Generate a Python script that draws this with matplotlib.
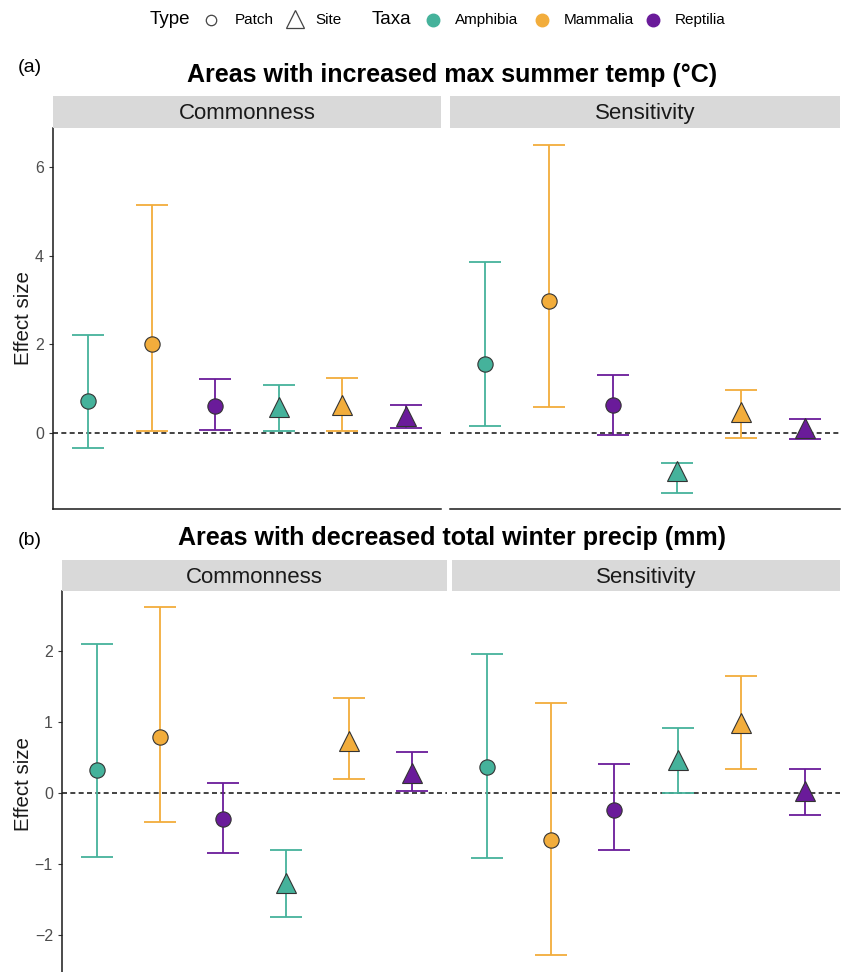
import matplotlib
matplotlib.use("Agg")
import matplotlib.pyplot as plt
from matplotlib.lines import Line2D

plt.rcParams["font.family"] = ["Liberation Sans", "DejaVu Sans"]

# order of the six estimates inside each facet
taxa = ["Amphibia", "Mammalia", "Reptilia", "Amphibia", "Mammalia", "Reptilia"]
types = ["Patch", "Patch", "Patch", "Site", "Site", "Site"]
facets = ["Commonness", "Sensitivity"]

# (a) increased max summer temp
a_com_est = [0.71, 2.00, 0.61, 0.59, 0.62, 0.38]
a_com_lo = [-0.34, 0.03, 0.07, 0.03, 0.05, 0.11]
a_com_hi = [2.21, 5.15, 1.22, 1.08, 1.23, 0.63]
a_sen_est = [1.55, 2.97, 0.63, -0.87, 0.48, 0.11]
a_sen_lo = [0.16, 0.59, -0.06, -1.35, -0.11, -0.14]
a_sen_hi = [3.85, 6.50, 1.31, -0.68, 0.97, 0.32]

# (b) decreased total winter precip
b_com_est = [0.32, 0.79, -0.37, -1.27, 0.73, 0.28]
b_com_lo = [-0.90, -0.41, -0.85, -1.75, 0.19, 0.02]
b_com_hi = [2.10, 2.61, 0.14, -0.81, 1.34, 0.57]
b_sen_est = [0.36, -0.66, -0.24, 0.46, 0.99, 0.03]
b_sen_lo = [-0.92, -2.28, -0.80, 0.00, 0.33, -0.31]
b_sen_hi = [1.95, 1.27, 0.40, 0.91, 1.65, 0.34]

colors = {"Amphibia": "#45B29B", "Mammalia": "#F2AD3C", "Reptilia": "#6A1B9A"}
shapes = {"Patch": "o", "Site": "^"}
msize = {"Patch": 11, "Site": 15}

W, H = 843, 972
fig = plt.figure(figsize=(W / 100, H / 100), dpi=100)


def px_axes(left, top, right, bottom, **kw):
    return fig.add_axes([left / W, 1 - bottom / H, (right - left) / W, (bottom - top) / H], **kw)


def strip(left, top, right, bottom, label):
    s = px_axes(left, top, right, bottom)
    s.set_facecolor("#D9D9D9")
    s.set_xticks([]); s.set_yticks([])
    for sp in s.spines.values():
        sp.set_visible(False)
    s.text(0.5, 0.45, label, ha="center", va="center", fontsize=16, color="#1A1A1A", transform=s.transAxes)


def panel(ax, est, lo, hi, ylim, yticks, left_axis=True, bottom_axis=True):
    for i in range(len(est)):
        c = colors[taxa[i]]
        ax.errorbar(i + 1, est[i], yerr=[[est[i] - lo[i]], [hi[i] - est[i]]], fmt="none",
                    ecolor=c, elinewidth=1.3, capsize=11.5, capthick=1.3, zorder=2)
        ax.plot(i + 1, est[i], marker=shapes[types[i]], ms=msize[types[i]], mfc=c,
                mec="#333333", mew=0.8, ls="none", zorder=3)
    ax.axhline(0, color="#222222", ls=(0, (3, 2)), lw=1.2, zorder=1)
    ax.set_xlim(0.45, 6.55)
    ax.set_ylim(*ylim)
    ax.set_xticks([])
    ax.set_yticks(yticks)
    ax.tick_params(axis="y", labelsize=11.5, labelcolor="#4D4D4D", color="#333333", length=3)
    ax.spines["top"].set_visible(False)
    ax.spines["right"].set_visible(False)
    ax.spines["left"].set_visible(left_axis)
    ax.spines["bottom"].set_visible(bottom_axis)
    for sp in ("left", "bottom"):
        ax.spines[sp].set_color("#1A1A1A")
        ax.spines[sp].set_linewidth(1.1)
    if not left_axis:
        ax.set_yticks([])


def ylabel(ycenter):
    fig.text(24 / W, 1 - ycenter / H, "Effect size", rotation=90, ha="center", va="center",
             fontsize=14.8, color="#1A1A1A")


# ---- panel (a)
ya = (-1.72, 6.88)
ax = px_axes(53, 128, 441, 509)
panel(ax, a_com_est, a_com_lo, a_com_hi, ya, [0, 2, 4, 6])
ax = px_axes(450, 128, 840, 509)
panel(ax, a_sen_est, a_sen_lo, a_sen_hi, ya, [0, 2, 4, 6], left_axis=False)
strip(53, 96, 441, 128, facets[0])
strip(450, 96, 840, 128, facets[1])
ylabel(318)
fig.text(452 / W, 1 - 75 / H, "Areas with increased max summer temp (°C)", ha="center", va="center",
         fontsize=18, fontweight="bold")
fig.text(18 / W, 1 - 68 / H, "(a)", ha="left", va="center", fontsize=14)

# ---- panel (b)
yb = (-2.52, 2.84)
ax = px_axes(62, 591, 447, 972)
panel(ax, b_com_est, b_com_lo, b_com_hi, yb, [-2, -1, 0, 1, 2], bottom_axis=False)
ax = px_axes(452, 591, 840, 972)
panel(ax, b_sen_est, b_sen_lo, b_sen_hi, yb, [-2, -1, 0, 1, 2], left_axis=False, bottom_axis=False)
strip(62, 560, 447, 591, facets[0])
strip(452, 560, 840, 591, facets[1])
ylabel(784)
fig.text(452 / W, 1 - 538 / H, "Areas with decreased total winter precip (mm)", ha="center", va="center",
         fontsize=18, fontweight="bold")
fig.text(18 / W, 1 - 540 / H, "(b)", ha="left", va="center", fontsize=14)

# ---- legend strip at top
lg = px_axes(0, 0, W, 40)
lg.set_xlim(0, W); lg.set_ylim(40, 0); lg.axis("off")
lg.text(150, 20, "Type", ha="left", va="center", fontsize=13.5)
lg.add_line(Line2D([211], [20], marker="o", ms=7.5, mfc="white", mec="#444444", mew=0.9))
lg.text(235, 20, "Patch", ha="left", va="center", fontsize=11)
lg.add_line(Line2D([295], [19], marker="^", ms=13, mfc="white", mec="#444444", mew=0.9))
lg.text(315, 20, "Site", ha="left", va="center", fontsize=11)
lg.text(372, 20, "Taxa", ha="left", va="center", fontsize=13.5)
x_leg = [433, 542, 653]
for name, xl in zip(["Amphibia", "Mammalia", "Reptilia"], x_leg):
    lg.add_line(Line2D([xl], [20], marker="o", ms=9, mfc=colors[name], mec=colors[name]))
    lg.text(xl + 22, 20, name, ha="left", va="center", fontsize=11)

fig.savefig("out.png", dpi=100)
